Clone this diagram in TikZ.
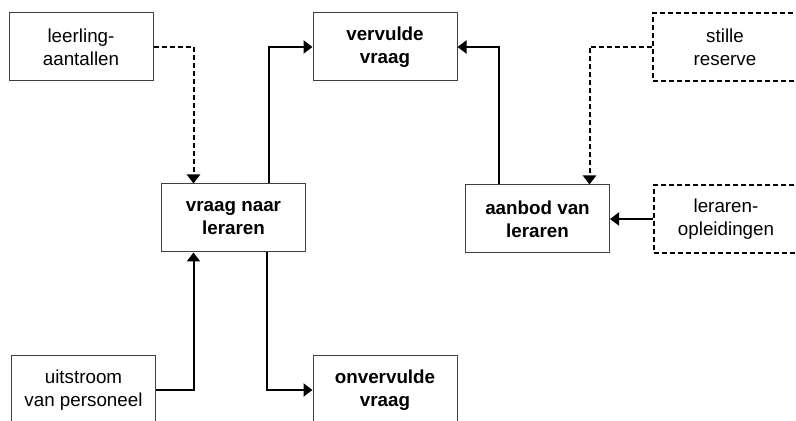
\documentclass[tikz,border=0pt]{standalone}
\usepackage{fontspec}
\setmainfont{Liberation Sans}
\usetikzlibrary{arrows.meta}

\begin{document}
\begin{tikzpicture}[x=0.5pt,y=-0.5pt,
            flow/.style={line width=1pt,-{Triangle[length=4.5pt,width=6.5pt]}},
            main node/.style={draw=black!75,line width=0.5pt,minimum width=72pt,minimum height=34pt,
              inner sep=0pt,align=center,font=\fontsize{9.4}{11.3}\selectfont},
            bold node/.style={main node,font=\fontsize{9.4}{11.3}\selectfont\bfseries},
            dashed node/.style={main node,draw=black,line width=0.8pt,dash pattern=on 2.5pt off 1.5pt}]

        \useasboundingbox (0,0) rectangle (796,421);

        % Define vertices
        \node[main node] (leerling) at (81,47) {leerling-\\aantallen};
        \node[bold node] (vervuld) at (385,47) {vervulde\\vraag};
        \node[dashed node] (stille) at (725,47) {stille\\reserve};
        \node[bold node] (vraag) at (233.5,218) {vraag naar\\leraren};
        \node[bold node] (aanbod) at (537.5,219) {aanbod van\\leraren};
        \node[dashed node] (opleiding) at (726,219) {leraren-\\opleidingen};
        \node[main node] (uitstroom) at (83.5,390) {uitstroom\\van personeel};
        \node[bold node] (onvervuld) at (385,390) {onvervulde\\vraag};

        % Draw edges
        \draw[flow,dash pattern=on 2.5pt off 1.5pt] (leerling.east) -| ([xshift=-20pt]vraag.north);
        \draw[flow] ([xshift=17.5pt]vraag.north) |- (vervuld.west);
        \draw[flow] ([xshift=-19.5pt]aanbod.north) |- (vervuld.east);
        \draw[flow,dash pattern=on 2.5pt off 1.5pt] (stille.west) -| ([xshift=26pt]aanbod.north);
        \draw[flow] (opleiding.west) -- (aanbod.east);
        \draw[flow] (uitstroom.east) -| ([xshift=-20pt]vraag.south);
        \draw[flow] ([xshift=16.5pt]vraag.south) |- (onvervuld.west);

\end{tikzpicture}
\end{document}
